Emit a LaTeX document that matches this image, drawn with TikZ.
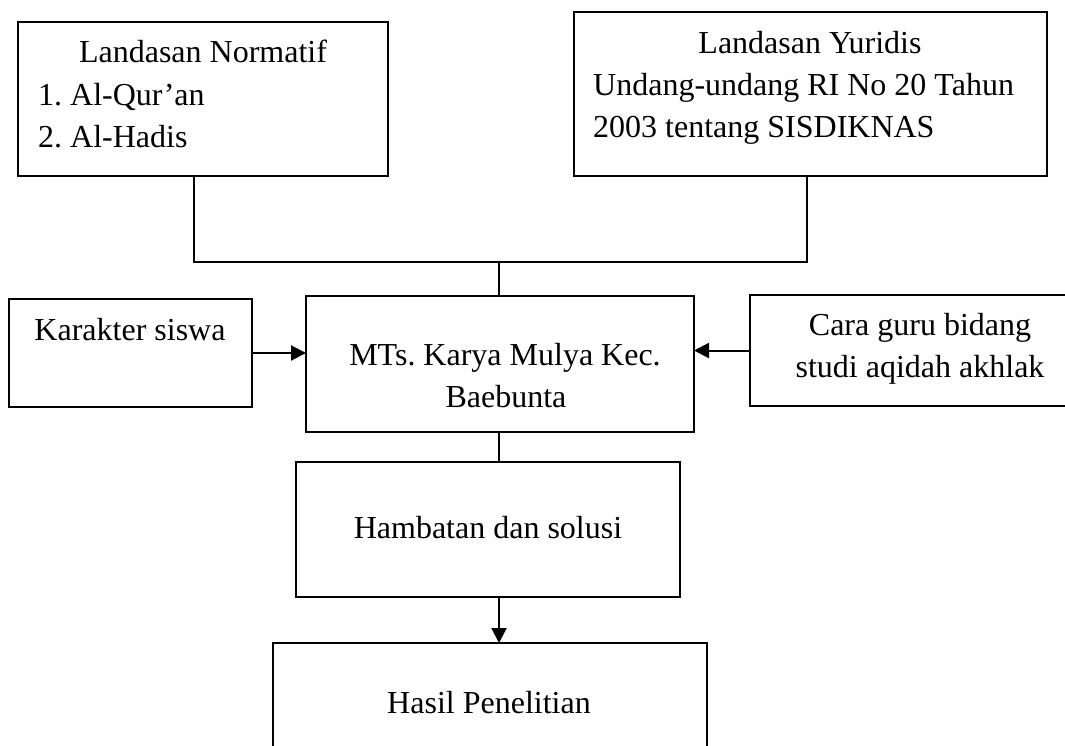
\documentclass[tikz,border=0pt]{standalone}
\usepackage{fontspec}
\setmainfont{Liberation Serif}
\usetikzlibrary{arrows.meta}
\begin{document}
\frenchspacing
\begin{tikzpicture}[x=1pt,y=-1pt,
  box/.style={draw, line width=2pt, inner sep=0pt, outer sep=0pt},
  conn/.style={line width=2pt},
  arr/.style={line width=2pt, -{Triangle[length=15pt,width=15pt]}},
  txt/.style={inner sep=0pt, font=\fontsize{32}{38}\selectfont}]
\useasboundingbox (0,0) rectangle (1065,745);
\clip (0,0) rectangle (1065,745);
% boxes
\node[box, minimum width=370pt, minimum height=154pt] (norm) at (203,99) {};
\node[box, minimum width=473pt, minimum height=164pt] (yur) at (810.5,94) {};
\node[box, minimum width=243pt, minimum height=108pt] (kar) at (130.5,353) {};
\node[box, minimum width=388pt, minimum height=136pt] (mts) at (500,364) {};
\node[box, minimum width=350pt, minimum height=111pt] (cara) at (925,350.5) {};
\node[box, minimum width=384pt, minimum height=135pt] (hamb) at (488,529.5) {};
\node[box, minimum width=434pt, minimum height=147pt] (hasil) at (490,716.5) {};
% texts
\node[txt, anchor=base] (n1) at (203,62) {Landasan Normatif};
\node[txt, anchor=base west] (n2) at (38,105) {1. Al-Qur’an};
\node[txt, anchor=base west] (n3) at (38,147) {2. Al-Hadis};
\node[txt, anchor=base] (y1) at (810,53) {Landasan Yuridis};
\node[txt, anchor=base west] (y2) at (593,95) {Undang-undang RI No 20 Tahun};
\node[txt, anchor=base west] (y3) at (593,137) {2003 tentang SISDIKNAS};
\node[txt, anchor=base] (k1) at (130,340) {Karakter siswa};
\node[txt, anchor=base] (m1) at (505,365) {MTs. Karya Mulya Kec.};
\node[txt, anchor=base] (m2) at (506,407) {Baebunta};
\node[txt, anchor=base] (c1) at (920,335) {Cara guru bidang};
\node[txt, anchor=base] (c2) at (920,377) {studi aqidah akhlak};
\node[txt, anchor=base] (h1) at (488,538) {Hambatan dan solusi};
\node[txt, anchor=base] (r1) at (489,713) {Hasil Penelitian};
% connectors
\coordinate (j) at (499,262);
\draw[conn] ([xshift=-9pt]norm.south) |- (j) -| ([xshift=-4pt]yur.south);
\draw[conn] (j) -- (j |- mts.north);
\draw[arr] (kar.east) -- (kar.east -| mts.west);
\draw[arr] (cara.west) -- (cara.west -| mts.east);
\draw[conn] (j |- mts.south) -- (j |- hamb.north);
\draw[arr] (j |- hamb.south) -- (j |- hasil.north);
\end{tikzpicture}
\end{document}
